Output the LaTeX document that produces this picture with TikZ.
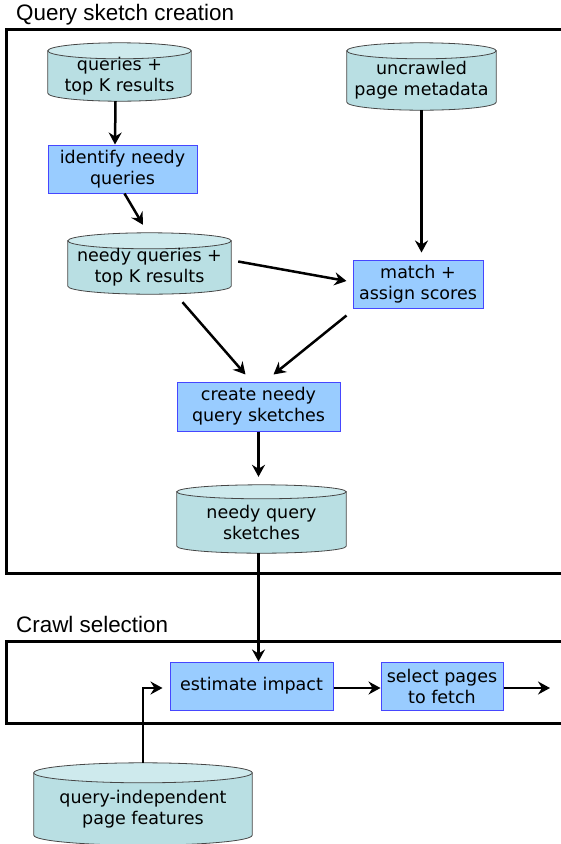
\documentclass[tikz,border=0pt]{standalone}
\usepackage{fontspec}
\setmainfont{DejaVu Sans}
\newfontfamily\headfont{Liberation Sans}
\usepackage{tikz}
\usetikzlibrary{calc}
\usetikzlibrary{backgrounds}
\usetikzlibrary{arrows.meta}
\usepackage{xcolor}

\definecolor{dbfill}{RGB}{185,223,227}
\definecolor{dbtop}{RGB}{206,234,237}
\definecolor{dbline}{RGB}{70,70,70}
\definecolor{stepfill}{RGB}{153,204,255}
\definecolor{stepline}{RGB}{70,70,255}

\tikzset{
  db/.style={rectangle, align=center, inner sep=0pt},
  stepbox/.style={rectangle, draw=stepline, line width=1, fill=stepfill, align=center, inner sep=0pt},
  arr/.style={line width=2.5, -{Stealth[length=12, width=13, inset=4]}},
  frame/.style={line width=3},
  head/.style={font=\headfont\fontsize{22.4}{26}\selectfont, anchor=base west, inner sep=0pt}
}

% cylinder behind a db node: #1 node name, #2 radius of the end ellipses
\newcommand{\dbshape}[2]{%
  \begin{pgfonlayer}{background}
    \path let \p1=($(#1.east)-(#1.west)$) in
      [draw=dbline, line width=0.8, fill=dbfill] (#1.north west) -- ($(#1.south west)+(0,-#2)$)
      arc[start angle=180, end angle=360, x radius=0.5*\x1, y radius=#2pt] -- (#1.north east) -- cycle;
    \path let \p1=($(#1.east)-(#1.west)$) in
      [draw=dbline, line width=0.8, fill=dbtop] (#1.north) ellipse [x radius=0.5*\x1, y radius=#2pt];
  \end{pgfonlayer}}

\begin{document}
\begin{tikzpicture}[x=1pt, y=-1pt, font=\fontsize{17.5}{21}\selectfont]
  \useasboundingbox (0,0) rectangle (561,844);
  % the two stages
  \node[head] (qtitle) at (16,20) {Query sketch creation};
  \draw[frame] (6,29) rectangle (575,573);
  \node[head] (ctitle) at (16,632) {Crawl selection};
  \draw[frame] (6,641) rectangle (575,723);
  % stores
  \node[db, minimum width=143, minimum height=50] (queries) at (119.5,76) {queries +\\top K results};
  \node[db, minimum width=149, minimum height=59] (uncrawled) at (421.5,80.5) {uncrawled\\page metadata};
  \node[db, minimum width=163, minimum height=53] (needy) at (149.5,267.5) {needy queries +\\top K results};
  \node[db, minimum width=169, minimum height=61] (sketches) at (261.5,522.5) {needy query\\sketches};
  \node[db, minimum width=218, minimum height=72] (features) at (143,809) {query-independent\\page features};
  \dbshape{queries}{8}
  \dbshape{uncrawled}{8}
  \dbshape{needy}{8}
  \dbshape{sketches}{7}
  \dbshape{features}{10}
  % steps
  \node[stepbox, minimum width=149, minimum height=48] (identify) at (122.5,169) {identify needy\\queries};
  \node[stepbox, minimum width=130, minimum height=48] (match) at (418,284) {match +\\assign scores};
  \node[stepbox, minimum width=163, minimum height=49] (create) at (258.5,406.5) {create needy\\query sketches};
  \node[stepbox, minimum width=163, minimum height=48] (estimate) at (251.5,686) {estimate impact};
  \node[stepbox, minimum width=122, minimum height=48] (select) at (442,686) {select pages\\to fetch};
  \coordinate (out) at (550,688);
  % flow
  \draw[arr] ($(queries.south)+(-4,0)$) -- ($(identify.north)+(-7.5,0)$);
  \draw[arr] ($(identify.south)+(2,0)$) -- ($(needy.north)+(-6.5,-16)$);
  \draw[arr, shorten >=7] (uncrawled.south) -- (uncrawled.south |- match.north);
  \draw[arr] ($(needy.east)+(7,-6)$) -- ($(match.west)+(-6,-3)$);
  \draw[arr] ($(needy.south)+(33,8)$) -- ($(create.north)+(-13,-7)$);
  \draw[arr] ($(match.south west)+(-6,7)$) -- ($(create.north)+(15,-7)$);
  \draw[arr, shorten >=15] (create.south) -- (create.south |- sketches.north);
  \draw[arr] (create.south |- sketches.south) -- (create.south |- estimate.north);
  \draw[arr] ($(features.north)+(0,-10)$) |- ($(estimate.west)+(-7,2)$);
  \draw[arr] ($(estimate.east)+(0,2)$) -- ($(select.west)+(0,2)$);
  \draw[arr] ($(select.east)+(0,2)$) -- (out);
\end{tikzpicture}
\end{document}
